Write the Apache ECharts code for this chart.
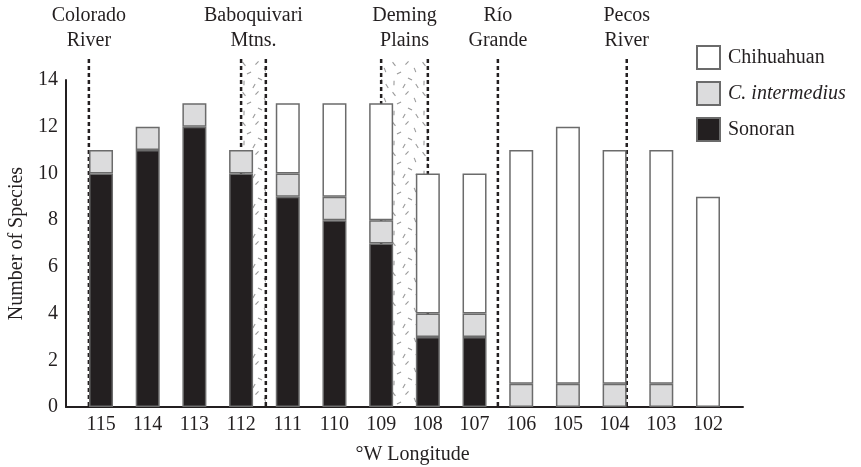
<!DOCTYPE html>
<html>
<head>
<meta charset="utf-8">
<script src="https://cdn.jsdelivr.net/npm/echarts@6/dist/echarts.min.js"></script>
<style>
  html, body { margin: 0; padding: 0; background: #fff; }
  #chart { width: 861px; height: 467px; }
</style>
</head>
<body>
<div id="chart"></div>
<script>
// Longitude bins (°W), west to east
const longitudes = [115, 114, 113, 112, 111, 110, 109, 108, 107, 106, 105, 104, 103, 102];
// Species counts per bin
const sonoran      = [10, 11, 12, 10, 9, 8, 7, 3, 3, 0, 0, 0, 0, 0];
const intermedius  = [1, 1, 1, 1, 1, 1, 1, 1, 1, 1, 1, 1, 1, 0];
const chihuahuan   = [0, 0, 0, 0, 3, 4, 5, 6, 6, 10, 11, 10, 10, 9];

// Biogeographic barriers: name, west edge and east edge (°W)
const barrierNames = ['Colorado\nRiver', 'Baboquivari\nMtns.', 'Deming\nPlains', 'Río\nGrande', 'Pecos\nRiver'];
const barrierWest  = [115.26, 112, 109, 106.5, 103.74];
const barrierEast  = [115.26, 111.47, 108, 106.5, 103.74];
const barrierTop   = 14.9;

const FONT = '"Liberation Serif", "Times New Roman", serif';
const INK = '#231f20';

// Speckled fill used for the broad barrier zones
function speckle() {
  const c = document.createElement('canvas');
  c.width = 30; c.height = 30;
  const g = c.getContext('2d');
  g.strokeStyle = '#9a9a9a';
  g.lineWidth = 1.1;
  const marks = [
    [4, 4, 0.9], [17, 3, 2.3], [25, 10, 1.2], [9, 13, 2.7],
    [20, 19, 0.5], [4, 23, 1.6], [14, 26, 2.1], [27, 26, 1.0]
  ];
  marks.forEach(([x, y, a]) => {
    const dx = Math.cos(a) * 2.3, dy = Math.sin(a) * 2.3;
    g.beginPath();
    g.moveTo(x - dx, y - dy);
    g.lineTo(x + dx, y + dy);
    g.stroke();
  });
  return c;
}
const speckleImg = speckle();

const chart = echarts.init(document.getElementById('chart'), null, { renderer: 'canvas' });

// [count, longitude] so the count is the stacked dimension
const pair = (arr) => longitudes.map((lon, i) => [arr[i] === 0 ? null : arr[i], lon]);
const barStyle = (fill) => ({ color: fill, borderColor: '#6b6b6b', borderWidth: 1.5 });

const barrierData = barrierNames.map((n, i) => [barrierWest[i], barrierEast[i], barrierTop]);

function renderBarrier(params, api) {
  const west = api.value(0), east = api.value(1), top = api.value(2);
  const name = barrierNames[params.dataIndex];
  const pw0 = api.coord([west, 0]);
  const pwT = api.coord([west, top]);
  const pe0 = api.coord([east, 0]);
  const dash = (x) => ({
    type: 'line',
    shape: { x1: x, y1: pwT[1], x2: x, y2: pw0[1] },
    style: { stroke: INK, lineWidth: 2.5, lineDash: [4, 3] }
  });
  const children = [];
  if (west !== east) {
    children.push({
      type: 'rect',
      shape: { x: pw0[0], y: pwT[1], width: pe0[0] - pw0[0], height: pw0[1] - pwT[1] },
      style: { fill: { image: speckleImg, repeat: 'repeat' } }
    });
    children.push(dash(pw0[0]), dash(pe0[0]));
  } else {
    children.push(dash(pw0[0]));
  }
  children.push({
    type: 'text',
    style: {
      text: name,
      x: (pw0[0] + pe0[0]) / 2,
      y: pwT[1] - 6,
      align: 'center',
      verticalAlign: 'bottom',
      font: '20px ' + FONT,
      lineHeight: 25,
      fill: INK
    }
  });
  return { type: 'group', children };
}

const barSeries = (name, fill, arr) => ({
  name, type: 'bar', stack: 'spp', barWidth: 24, z: 3,
  itemStyle: barStyle(fill),
  encode: { x: 1, y: 0 },
  data: pair(arr)
});

chart.setOption({
  backgroundColor: '#fff',
  animation: false,
  textStyle: { fontFamily: FONT, color: INK },
  grid: { left: 66, right: 118, top: 80, bottom: 60, containLabel: false, outerBoundsMode: 'none' },
  legend: {
    orient: 'vertical',
    left: 691,
    top: 40,
    itemWidth: 23,
    itemHeight: 23,
    itemGap: 11,
    icon: 'rect',
    data: ['Chihuahuan', 'C. intermedius', 'Sonoran'],
    textStyle: { fontFamily: FONT, fontSize: 20, color: INK, padding: [0, 0, 0, 3],
      rich: { i: { fontFamily: FONT, fontSize: 20, fontStyle: 'italic', color: INK } } },
    formatter: (n) => n === 'C. intermedius' ? '{i|' + n + '}' : n,
    selectedMode: false
  },
  xAxis: {
    type: 'value',
    inverse: true,
    min: 101.25,
    max: 115.75,
    name: '°W Longitude',
    nameLocation: 'middle',
    nameGap: 38,
    nameTextStyle: { fontFamily: FONT, fontSize: 20, color: INK, padding: [0, 0, 0, 16] },
    axisLine: { show: true, lineStyle: { color: INK, width: 2 } },
    axisTick: { show: false },
    splitLine: { show: false },
    axisLabel: {
      customValues: longitudes,
      fontFamily: FONT, fontSize: 20, color: INK, margin: 8,
      formatter: (v) => String(Math.round(v))
    }
  },
  yAxis: {
    type: 'value',
    min: 0,
    max: 14,
    interval: 2,
    name: 'Number of Species',
    nameLocation: 'middle',
    nameGap: 39,
    nameRotate: 90,
    nameTextStyle: { fontFamily: FONT, fontSize: 20, color: INK },
    axisLine: { show: true, lineStyle: { color: INK, width: 2 } },
    axisTick: { show: false },
    splitLine: { show: false },
    axisLabel: { fontFamily: FONT, fontSize: 20, color: INK, margin: 8 }
  },
  series: [
    {
      type: 'custom',
      name: 'barriers',
      coordinateSystem: 'cartesian2d',
      renderItem: renderBarrier,
      data: barrierData,
      encode: { x: [0, 1], y: 2 },
      clip: false,
      z: 1,
      silent: true
    },
    barSeries('Sonoran', INK, sonoran),
    barSeries('C. intermedius', '#dcdcdd', intermedius),
    barSeries('Chihuahuan', '#ffffff', chihuahuan)
  ]
});
</script>
</body>
</html>
